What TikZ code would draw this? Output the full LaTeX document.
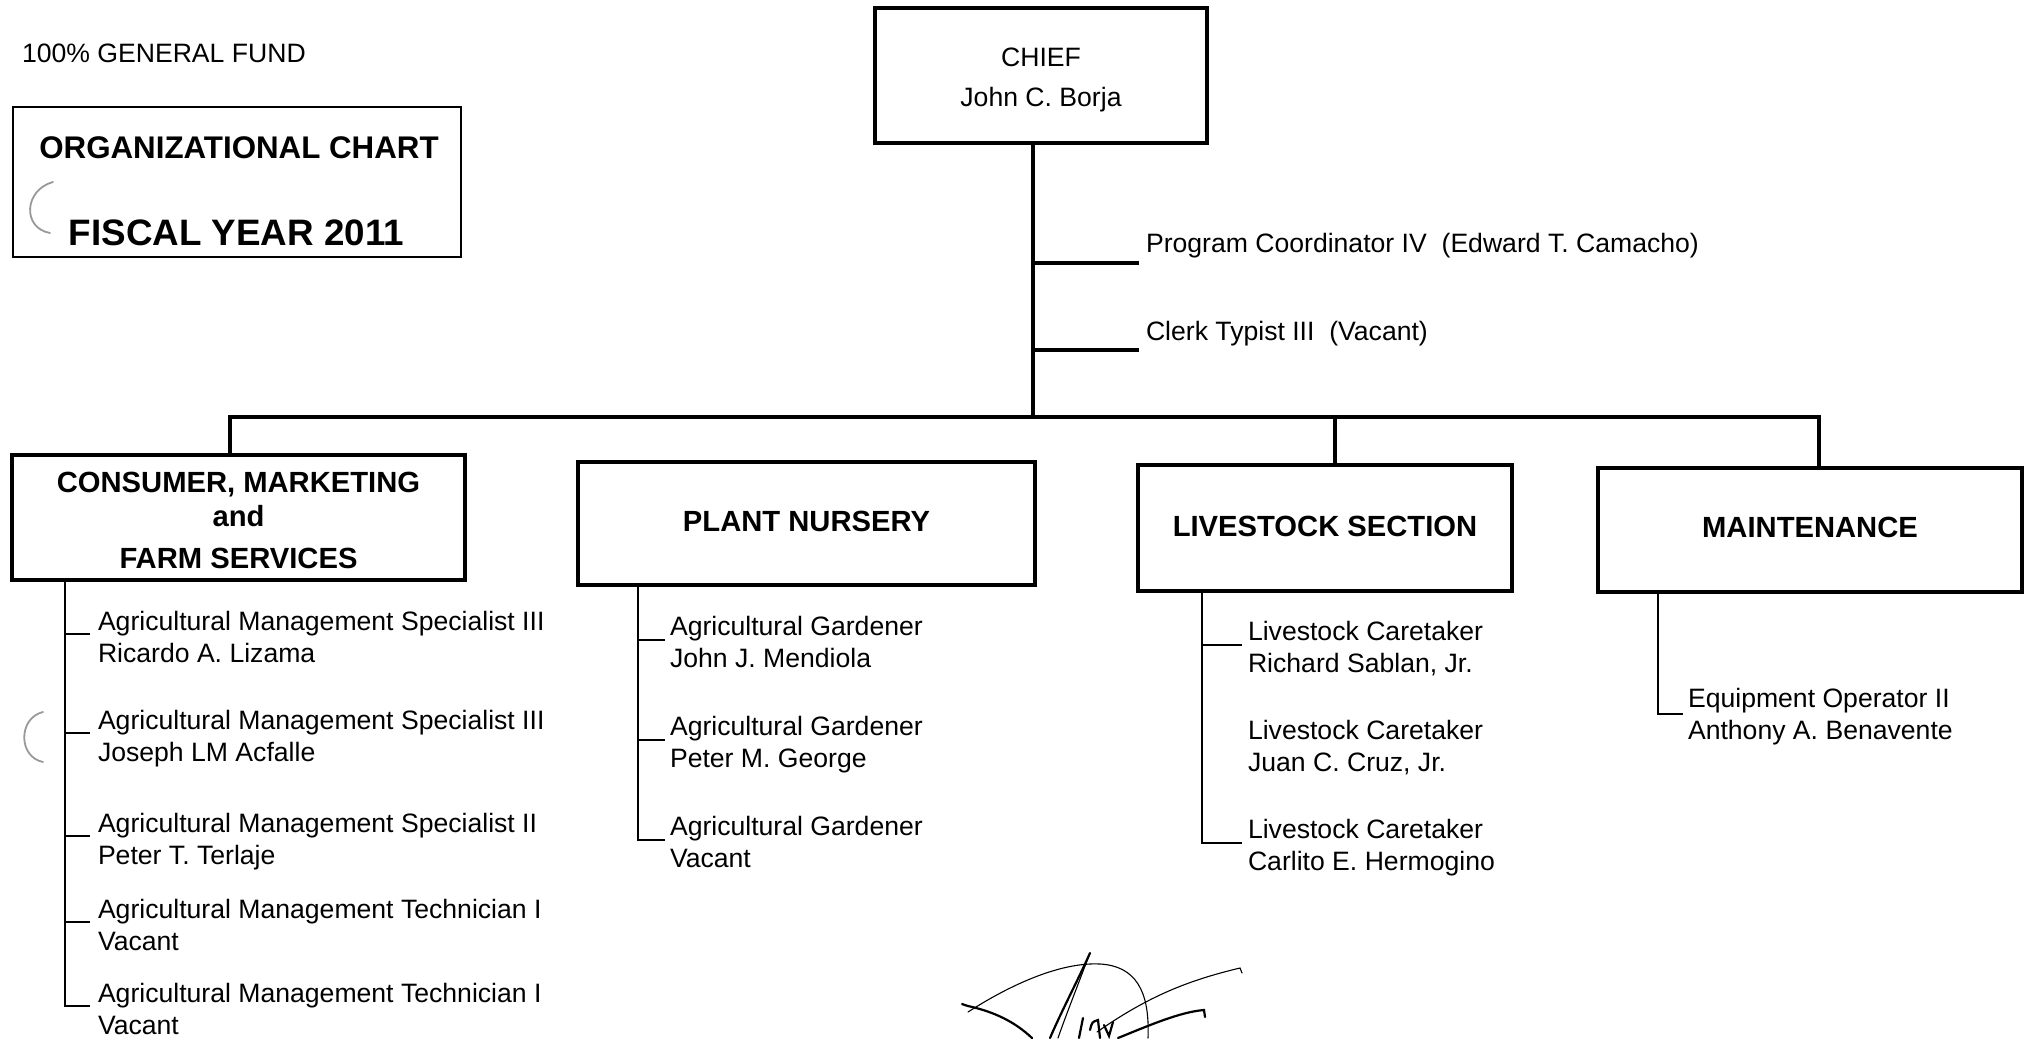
\documentclass[tikz,border=0pt]{standalone}
\usepackage{fontspec}
\setmainfont{Liberation Sans}
\usetikzlibrary{calc}
\newcommand\twoln[2]{\begin{tabular}[t]{@{}l@{}}#1\\#2\end{tabular}}
\begin{document}
\begin{tikzpicture}[x=1pt,y=-1pt,
  every node/.style={inner sep=0pt, outer sep=0pt},
  regtext/.style={font=\fontsize{26.6}{32}\selectfont},
  headtext/.style={font=\fontsize{29.2}{34}\selectfont\bfseries},
  unitbox/.style={draw, rectangle, line width=4.5pt, headtext},
  item/.style={regtext, anchor=base west},
  spine/.style={line width=2.6pt},
  trunk/.style={line width=4pt, line join=miter},
  scan/.style={draw=black!40, line width=1.8pt, line cap=round},
  sig/.style={line width=2.2pt, line cap=round},
  sigthin/.style={line width=1.1pt, line cap=round}
]
\useasboundingbox (0,0) rectangle (2025,1038);

% ---- header ----
\node[regtext, anchor=base west] (fund) at (22,63) {100\% GENERAL FUND};
\node[draw, line width=2.5pt, minimum width=448pt, minimum height=150pt] (titlebox) at (237,182) {};
\node[font=\fontsize{31.3}{36}\selectfont\bfseries, anchor=base] (titleA) at (239,158) {ORGANIZATIONAL CHART};
\node[font=\fontsize{36.8}{42}\selectfont\bfseries, anchor=base] (titleB) at (236.5,245) {FISCAL YEAR 2011};

% ---- chief ----
\node[draw, rectangle, line width=4.5pt, font=\fontsize{26.6}{40}\selectfont,
      minimum width=332pt, minimum height=135pt, text height=0pt, text depth=17pt]
  (chief) at (1041,75.5) {\begin{tabular}[t]{@{}c@{}}CHIEF\\John C. Borja\end{tabular}};
\node[item] (pc) at (1146,252) {Program Coordinator IV\ \ (Edward T. Camacho)};
\node[item] (clerk) at (1146,340) {Clerk Typist III\ \ (Vacant)};
\coordinate (cv) at (1033,417);
\coordinate (pcb) at ($(pc.base west)+(-7,11)$);
\coordinate (clb) at ($(clerk.base west)+(-7,10)$);
\draw[trunk] (chief.south -| cv) -- (cv);
\draw[trunk] (cv |- pcb) -- (pcb);
\draw[trunk] (cv |- clb) -- (clb);

% ---- units ----
\node[unitbox, minimum width=453pt, minimum height=125pt, text height=0pt, text depth=51pt]
  (cons) at (238.5,517.5) {\begin{tabular}[t]{@{}c@{}}CONSUMER, MARKETING\\and\\[8pt]FARM SERVICES\end{tabular}};
\node[unitbox, minimum width=457pt, minimum height=123pt, text height=15pt, text depth=0pt]
  (plant) at (806.5,523.5) {PLANT NURSERY};
\node[unitbox, minimum width=374pt, minimum height=126pt, text height=16pt, text depth=0pt]
  (live) at (1325,528) {LIVESTOCK SECTION};
\node[unitbox, minimum width=424pt, minimum height=124pt, text height=14pt, text depth=0pt]
  (maint) at (1810,530) {MAINTENANCE};

% ---- main bar ----
\coordinate (bl) at (230,417);
\coordinate (bs) at (1335,417);
\coordinate (br) at (1819,417);
\draw[trunk] (bl |- cons.north) -- (bl) -- (br) -- (br |- maint.north);
\draw[trunk] (bs) -- (bs |- live.north);

% ---- consumer list ----
\coordinate (cx1) at (65,600);
\node[item] (c1) at (98,630) {\twoln{Agricultural Management Specialist III}{Ricardo A. Lizama}};
\node[item] (c2) at (98,729) {\twoln{Agricultural Management Specialist III}{Joseph LM Acfalle}};
\node[item] (c3) at (98,832) {\twoln{Agricultural Management Specialist II}{Peter T. Terlaje}};
\node[item] (c4) at (98,918) {\twoln{Agricultural Management Technician I}{Vacant}};
\node[item] (c5) at (98,1002) {\twoln{Agricultural Management Technician I}{Vacant}};
\foreach \n in {c1,c2,c3,c4,c5}
  \draw[spine] (cons.south -| cx1) |- ($(\n.base west)+(-8,4)$);

% ---- plant nursery list ----
\coordinate (cx2) at (638,600);
\node[item] (p1) at (670,635) {\twoln{Agricultural Gardener}{John J. Mendiola}};
\node[item] (p2) at (670,735) {\twoln{Agricultural Gardener}{Peter M. George}};
\node[item] (p3) at (670,835) {\twoln{Agricultural Gardener}{Vacant}};
\foreach \n in {p1,p2,p3}
  \draw[spine] (plant.south -| cx2) |- ($(\n.base west)+(-5,5)$);

% ---- livestock list ----
\coordinate (cx3) at (1202,600);
\node[item] (l1) at (1248,640) {\twoln{Livestock Caretaker}{Richard Sablan, Jr.}};
\node[item] (l2) at (1248,739) {\twoln{Livestock Caretaker}{Juan C. Cruz, Jr.}};
\node[item] (l3) at (1248,838) {\twoln{Livestock Caretaker}{Carlito E. Hermogino}};
\foreach \n in {l1,l3}
  \draw[spine] (live.south -| cx3) |- ($(\n.base west)+(-6,5)$);

% ---- maintenance list ----
\coordinate (cx4) at (1658,600);
\node[item] (m1) at (1688,707) {\twoln{Equipment Operator II}{Anthony A. Benavente}};
\draw[spine] (maint.south -| cx4) |- ($(m1.base west)+(-5,7)$);

% ---- scan marks ----
\draw[scan] (53,182) .. controls (24,190) and (22,228) .. (50,233);
\draw[scan] (43,712) .. controls (18,718) and (18,757) .. (43,762);

% ---- signature ----
\draw[sigthin] (968,1012) .. controls (1010,985) and (1060,962) .. (1100,964)
               .. controls (1135,966) and (1150,990) .. (1148,1038);
\draw[sig] (962,1004) -- (968,1006) .. controls (995,1012) and (1015,1022) .. (1032,1038);
\draw[sig] (1090,953) .. controls (1078,980) and (1062,1010) .. (1050,1038);
\draw[sigthin] (1088,958) .. controls (1076,990) and (1066,1015) .. (1058,1038);
\draw[sigthin] (1097,1032) .. controls (1150,995) and (1190,980) .. (1240,968) -- (1242,973);
\draw[sig] (1118,1038) .. controls (1150,1025) and (1180,1012) .. (1204,1010) -- (1205,1017);
\draw[sig] (1079,1038) -- (1083,1018);
\draw[sig] (1090,1030) .. controls (1092,1022) .. (1098,1020) -- (1100,1038);
\draw[sig] (1104,1025) -- (1109,1036) -- (1113,1022);
\end{tikzpicture}
\end{document}
